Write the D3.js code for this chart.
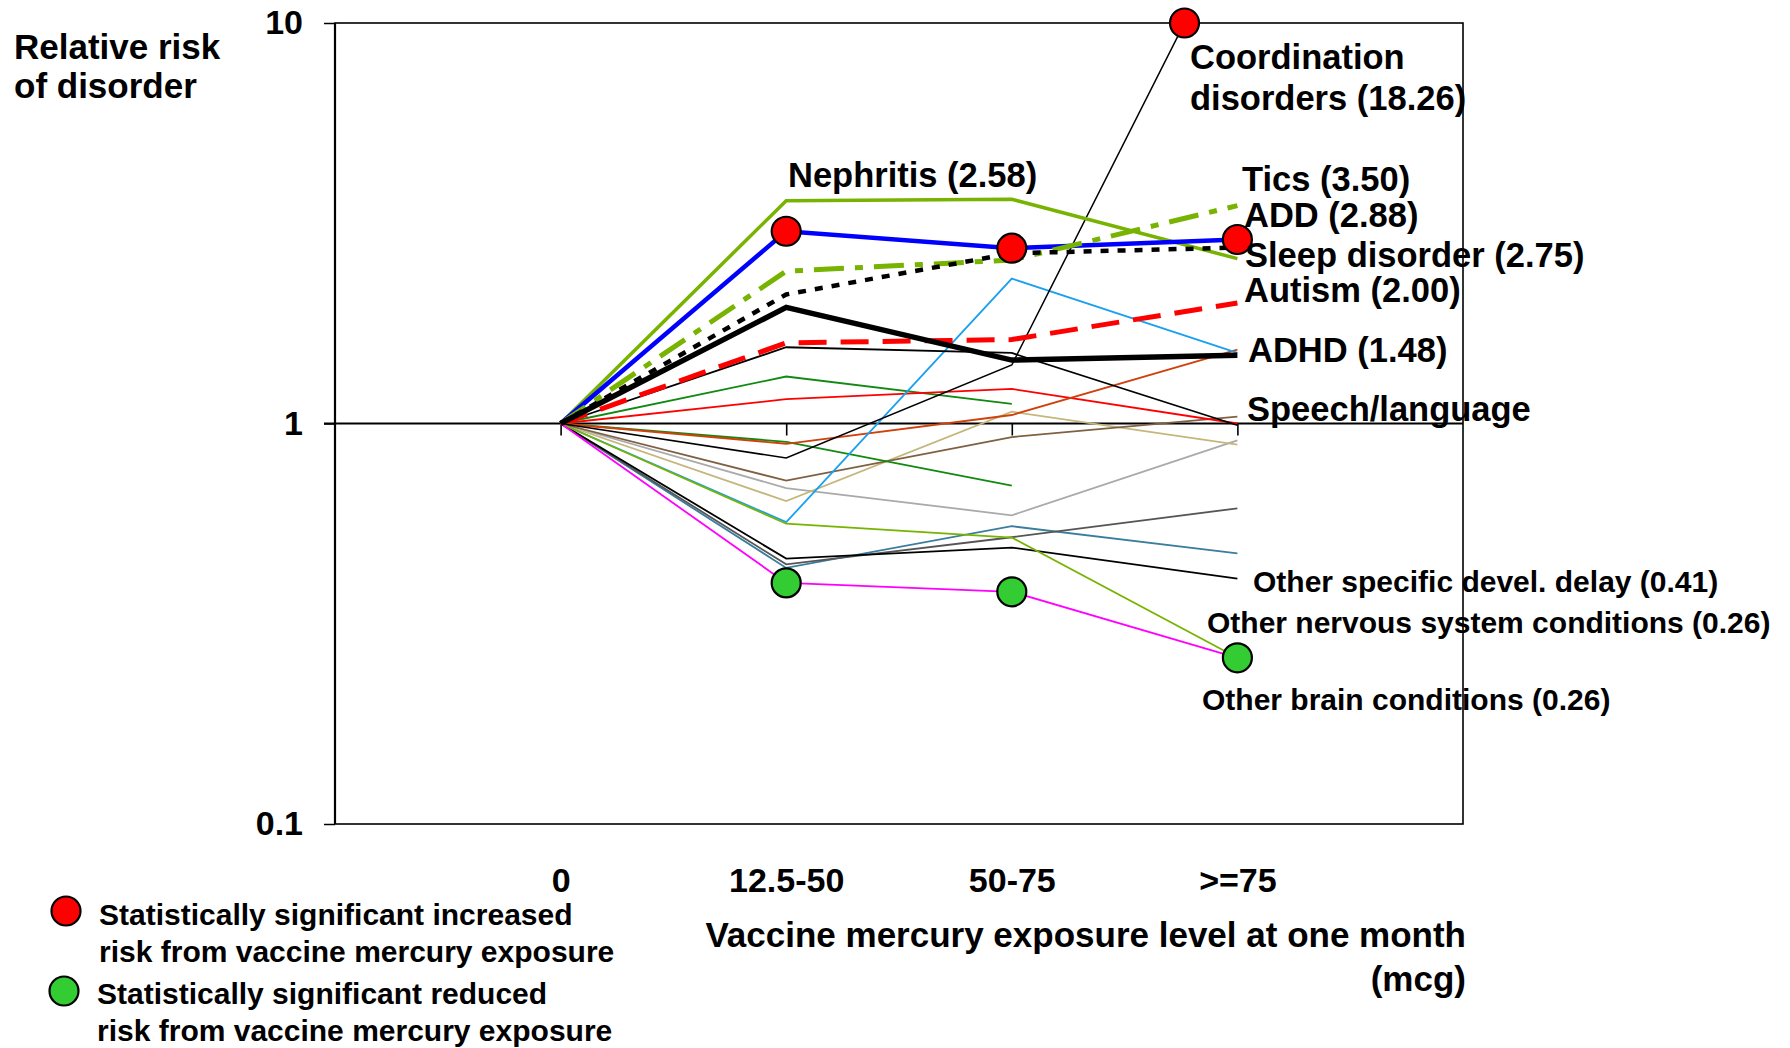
<!DOCTYPE html>
<html>
<head>
<meta charset="utf-8">
<script src="https://cdn.jsdelivr.net/npm/d3@7"></script>
<style>
  html, body { margin: 0; padding: 0; background: #fff; }
  svg { display: block; }
  text { font-family: "Liberation Sans", Arial, Helvetica, sans-serif; font-weight: bold; fill: #000; }
</style>
</head>
<body>
<svg id="chart" width="1790" height="1048"></svg>
<script>
// ---------------- DATA ----------------
const categories = ["0", "12.5-50", "50-75", ">=75"];
const yTickValues = [0.1, 1, 10];
const yTickLabels = ["0.1", "1", "10"];

// relative risk by exposure level (0, 12.5-50, 50-75, >=75)
const nephritis        = [1, 3.60, 3.63, 2.58];
const addRisk          = [1, 3.02, 2.74, 2.88];
const tics             = [1, 2.40, 2.56, 3.50];
const sleepDisorder    = [1, 2.10, 2.66, 2.75];
const autism           = [1, 1.59, 1.62, 2.00];
const adhd             = [1, 1.95, 1.44, 1.48];
const speechLanguage   = [1, 1.55, 1.50, 0.99];
const coordination     = [1, 0.82, 1.40, 18.26];
const greenUpper       = [1, 1.31, 1.12, null];
const redThin          = [1, 1.15, 1.22, 1.00];
const orangeThin       = [1, 0.89, 1.05, 1.53];
const skyBlueThin      = [1, 0.567, 2.30, 1.50];
const tanThin          = [1, 0.64, 1.07, 0.886];
const brownThin        = [1, 0.72, 0.925, 1.04];
const greenLower       = [1, 0.90, 0.70, null];
const grayThin         = [1, 0.69, 0.59, 0.907];
const otherNervous     = [1, 0.562, 0.519, 0.26];
const otherBrain       = [1, 0.40, 0.38, 0.26];
const otherSpecific    = [1, 0.46, 0.49, 0.41];
const darkGrayThin     = [1, 0.445, 0.52, 0.614];
const tealThin         = [1, 0.436, 0.554, 0.474];

// statistically significant points: [series key, category index]
const increasedPoints = [["add", 1], ["add", 2], ["add", 3], ["coordination", 3]];
const reducedPoints   = [["otherBrain", 1], ["otherBrain", 2], ["otherBrain", 3]];

// ---------------- SERIES TABLE (styles) ----------------
const OLIVE = "#77b300";
const seriesTable = [
  { key: "tealThin",       values: tealThin,       color: "#3a7d9c", w: 1.8 },
  { key: "darkGrayThin",   values: darkGrayThin,   color: "#555555", w: 1.8 },
  { key: "otherSpecific",  values: otherSpecific,  color: "#000000", w: 1.8 },
  { key: "grayThin",       values: grayThin,       color: "#aaaaaa", w: 1.8 },
  { key: "tanThin",        values: tanThin,        color: "#c4b77c", w: 1.8 },
  { key: "brownThin",      values: brownThin,      color: "#7f6043", w: 1.8 },
  { key: "greenLower",     values: greenLower,     color: "#108a10", w: 1.8 },
  { key: "greenUpper",     values: greenUpper,     color: "#108a10", w: 1.8 },
  { key: "redThin",        values: redThin,        color: "#ff0000", w: 1.8 },
  { key: "orangeThin",     values: orangeThin,     color: "#d0400c", w: 1.8 },
  { key: "skyBlueThin",    values: skyBlueThin,    color: "#1aa0f0", w: 1.8 },
  { key: "speechLanguage", values: speechLanguage, color: "#000000", w: 1.8 },
  { key: "otherNervous",   values: otherNervous,   color: OLIVE,     w: 1.8 },
  { key: "otherBrain",     values: otherBrain,     color: "#ff00ff", w: 1.8 },
  { key: "coordination",   values: coordination,   color: "#000000", w: 1.5 },
  { key: "nephritis",      values: nephritis,      color: OLIVE,     w: 3.5 },
  { key: "add",            values: addRisk,        color: "#0000ff", w: 4.5 },
  { key: "tics",           values: tics,           color: OLIVE,     w: 5,   dash: "30,11,8,11" },
  { key: "sleepDisorder",  values: sleepDisorder,  color: "#000000", w: 4.5, dash: "8,9" },
  { key: "autism",         values: autism,         color: "#ff0000", w: 5,   dash: "28,14" },
  { key: "adhd",           values: adhd,           color: "#000000", w: 5.5 }
];

// ---------------- CHART ----------------
const svg = d3.select("#chart");
const plotL = 335, plotR = 1463, plotT = 23, plotB = 824;

const x = d3.scaleLinear().domain([0, 5]).range([plotL, plotR]);
const y = d3.scaleLog().domain([0.1, 10]).range([plotB, plotT]);
const catX = i => x(i + 1);
const FONT = '"Liberation Sans", Arial, sans-serif';

svg.append("defs").append("clipPath").attr("id", "plotClip")
  .append("rect").attr("x", plotL).attr("y", plotT)
  .attr("width", plotR - plotL).attr("height", plotB - plotT);

// y axis
const yAxis = d3.axisLeft(y).tickValues(yTickValues)
  .tickFormat((d, i) => yTickLabels[i]).tickSize(11).tickPadding(21);
const gy = svg.append("g").attr("transform", `translate(${plotL},0)`).call(yAxis);
gy.select(".domain").remove();
gy.selectAll(".tick line").attr("stroke", "#000").attr("stroke-width", 1.5);
gy.selectAll(".tick text").style("font-size", "34px")
  .style("font-family", FONT).style("font-weight", "bold").attr("fill", "#000");

// frame
svg.append("rect").attr("x", plotL).attr("y", plotT)
  .attr("width", plotR - plotL).attr("height", plotB - plotT)
  .attr("fill", "none").attr("stroke", "#000").attr("stroke-width", 1.6);
svg.append("line").attr("x1", plotL).attr("x2", plotL).attr("y1", plotT).attr("y2", plotB)
  .attr("stroke", "#000").attr("stroke-width", 2.2);

// reference line at RR = 1 (acts as x axis)
svg.append("line").attr("x1", plotL - 11).attr("x2", plotR)
  .attr("y1", y(1)).attr("y2", y(1)).attr("stroke", "#000").attr("stroke-width", 1.8);
const xTickAxis = d3.axisBottom(x).tickValues([1, 2, 3, 4]).tickSize(12).tickFormat("");
const gxt = svg.append("g").attr("transform", `translate(0,${y(1)})`).call(xTickAxis);
gxt.select(".domain").remove();
gxt.selectAll(".tick line").attr("stroke", "#000").attr("stroke-width", 1.6);

// category labels
const xLabelAxis = d3.axisBottom(x).tickValues([1, 2, 3, 4])
  .tickFormat((d, i) => categories[i]).tickSize(0).tickPadding(44);
const gxl = svg.append("g").attr("transform", `translate(0,${plotB})`).call(xLabelAxis);
gxl.select(".domain").remove();
gxl.selectAll(".tick text").style("font-size", "34px")
  .style("font-family", FONT).style("font-weight", "bold").attr("fill", "#000");

// lines
const line = d3.line()
  .defined(d => d.v != null)
  .x(d => catX(d.i))
  .y(d => y(d.v));

const gLines = svg.append("g").attr("clip-path", "url(#plotClip)");
seriesTable.forEach(s => {
  gLines.append("path")
    .datum(s.values.map((v, i) => ({ v, i })))
    .attr("d", line)
    .attr("fill", "none")
    .attr("stroke", s.color)
    .attr("stroke-width", s.w)
    .attr("stroke-dasharray", s.dash || null)
    .attr("stroke-linejoin", "miter");
});

// marker positions (placed where the line leaves the plot if off scale)
function markerPos(key, i) {
  const s = seriesTable.find(d => d.key === key);
  const v = s.values[i];
  if (v <= 10) return [catX(i), y(v)];
  const v0 = s.values[i - 1];
  const t = (Math.log10(10) - Math.log10(v0)) / (Math.log10(v) - Math.log10(v0));
  return [catX(i - 1) + t * (catX(i) - catX(i - 1)), y(10)];
}
const gMarks = svg.append("g");
increasedPoints.forEach(([k, i]) => {
  const p = markerPos(k, i);
  gMarks.append("circle").attr("cx", p[0]).attr("cy", p[1]).attr("r", 14.5)
    .attr("fill", "#ff0000").attr("stroke", "#000").attr("stroke-width", 2.2);
});
reducedPoints.forEach(([k, i]) => {
  const p = markerPos(k, i);
  gMarks.append("circle").attr("cx", p[0]).attr("cy", p[1]).attr("r", 14.5)
    .attr("fill", "#33cc33").attr("stroke", "#000").attr("stroke-width", 2.2);
});

// annotations
const big = [
  ["Nephritis (2.58)", 788, 187],
  ["Coordination", 1190, 69],
  ["disorders (18.26)", 1190, 110],
  ["Tics (3.50)", 1242, 191],
  ["ADD (2.88)", 1244, 227],
  ["Sleep disorder (2.75)", 1245, 267],
  ["Autism (2.00)", 1244, 302],
  ["ADHD (1.48)", 1248, 362],
  ["Speech/language", 1247, 421]
];
big.forEach(([t, tx, ty]) => {
  svg.append("text").attr("x", tx).attr("y", ty).style("font-size", "34.5px").text(t);
});
const small = [
  ["Other specific devel. delay (0.41)", 1253, 592],
  ["Other nervous system conditions (0.26)", 1207, 633],
  ["Other brain conditions (0.26)", 1202, 710]
];
small.forEach(([t, tx, ty]) => {
  svg.append("text").attr("x", tx).attr("y", ty).style("font-size", "30px").text(t);
});

// axis titles
svg.append("text").attr("x", 14).attr("y", 59).style("font-size", "35px").text("Relative risk");
svg.append("text").attr("x", 14).attr("y", 98).style("font-size", "35px").text("of disorder");
svg.append("text").attr("x", 1466).attr("y", 947).attr("text-anchor", "end")
  .style("font-size", "35px").text("Vaccine mercury exposure level at one month");
svg.append("text").attr("x", 1466).attr("y", 991).attr("text-anchor", "end")
  .style("font-size", "35px").text("(mcg)");

// legend
const legendItems = [
  { fill: "#ff0000", cx: 66, cy: 911, lines: ["Statistically significant increased", "risk from vaccine mercury exposure"], tx: 99, ty: 925 },
  { fill: "#33cc33", cx: 64, cy: 991, lines: ["Statistically significant reduced", "risk from vaccine mercury exposure"], tx: 97, ty: 1004 }
];
legendItems.forEach(l => {
  svg.append("circle").attr("cx", l.cx).attr("cy", l.cy).attr("r", 14.5)
    .attr("fill", l.fill).attr("stroke", "#000").attr("stroke-width", 2.2);
  l.lines.forEach((t, j) => {
    svg.append("text").attr("x", l.tx).attr("y", l.ty + j * 36.5)
      .style("font-size", "30px").text(t);
  });
});
</script>
</body>
</html>
